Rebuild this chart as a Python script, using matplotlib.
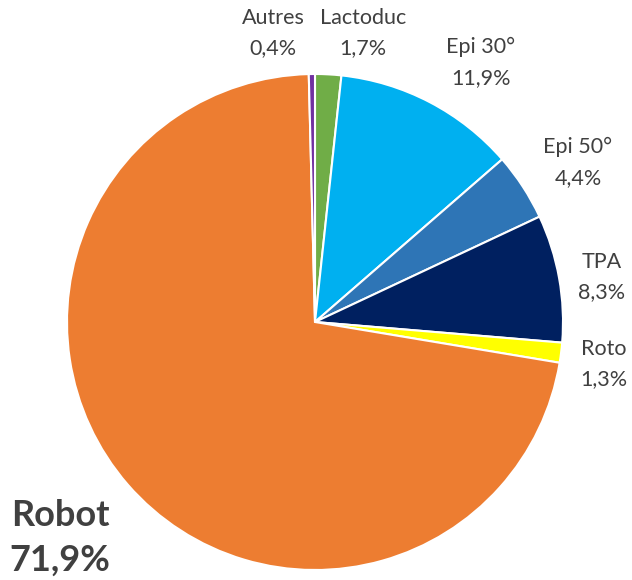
import matplotlib.pyplot as plt

# slices, clockwise from the top
labels = ["Lactoduc", "Epi 30°", "Epi 50°", "TPA", "Roto", "Robot", "Autres"]
values = [1.7, 11.9, 4.4, 8.3, 1.3, 71.9, 0.4]
pct_text = ["1,7%", "11,9%", "4,4%", "8,3%", "1,3%", "71,9%", "0,4%"]
colors = ["#70AD47", "#00B0F0", "#2E75B6", "#002060", "#FFFF00", "#ED7D31", "#7030A0"]

# label positions in pixels: x, y of name line, y of percent line (from top)
label_pos = [(363, 18, 48), (481, 47, 78), (578, 147, 178), (602, 262, 292),
             (604, 349, 379), (60, 516, 560), (273, 18, 48)]

plt.rcParams['font.family'] = ['Lato', 'DejaVu Sans']

fig = plt.figure(figsize=(6.32, 5.8), dpi=100)
ax = fig.add_axes([0, 0, 1, 1])

ax.pie(values, colors=colors, startangle=90, counterclock=False,
       center=(315, 580 - 322), radius=248,
       wedgeprops={"edgecolor": "white", "linewidth": 1.5})

ax.set_xlim(0, 632)
ax.set_ylim(0, 580)
ax.set_aspect("equal")
ax.axis("off")

for lab, pct, (x, y1, y2) in zip(labels, pct_text, label_pos):
    if lab == "Robot":
        kw = dict(fontsize=26, fontweight="bold")
    else:
        kw = dict(fontsize=15.5)
    ax.text(x, 580 - y1, lab, ha="center", va="center", color="#404040", **kw)
    ax.text(x, 580 - y2, pct, ha="center", va="center", color="#404040", **kw)

plt.savefig("out.png", dpi=100)
